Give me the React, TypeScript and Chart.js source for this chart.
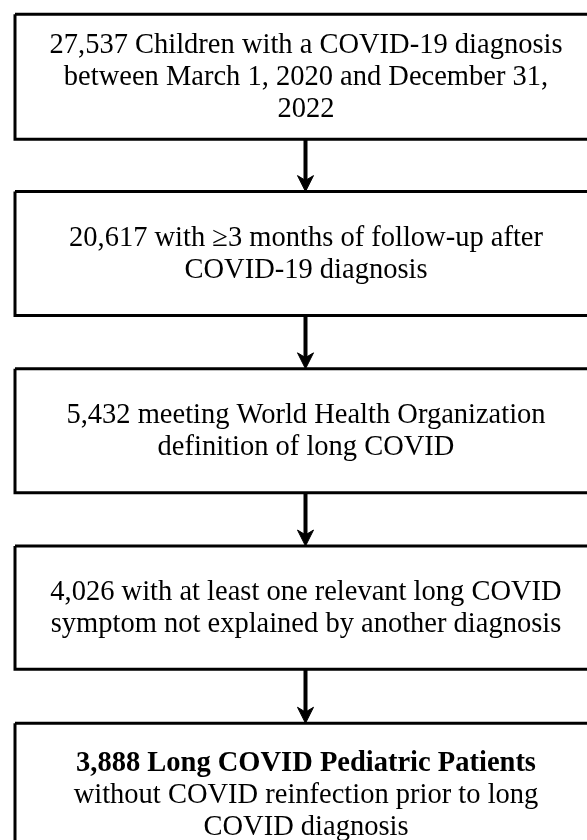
import React, { useEffect, useRef } from "react";
import { Chart, registerables } from "chart.js";

Chart.register(...registerables);

// ---- Data (flow stages) ----
const stageCounts = [27537, 20617, 5432, 4026, 3888];
const stageFirstLines = [
  "Children with a COVID-19 diagnosis",
  "with \u22653 months of follow-up after",
  "meeting World Health Organization",
  "with at least one relevant long COVID",
  "Long COVID Pediatric Patients",
];
const stageExtraLines = [
  ["between March 1, 2020 and December 31,", "2022"],
  ["COVID-19 diagnosis"],
  ["definition of long COVID"],
  ["symptom not explained by another diagnosis"],
  ["without COVID reinfection prior to long", "COVID diagnosis"],
];
const stageBoldFirst = [false, false, false, false, true];
// box height of each stage, in stage units
const stageHeights = [0.705, 0.7, 0.7, 0.695, 0.81];

// ---- Layout (in axis units) ----
const X_MIN = 0;
const X_MAX = 587;
const Y_MIN = -0.081;
const Y_MAX = 4.659;
const BOX_LEFT = 15;
const BOX_RIGHT = 598;
const ARROW_X = 305.5;
const HEAD_HALF = 8;
const HEAD_LEN = 0.09;
const FONT = '"Liberation Serif", "Times New Roman", serif';
const FONT_SIZE = 28.5;
const LINE_H = 32;

function fmt(n: number) {
  return n.toLocaleString("en-US");
}

export default function App() {
  const ref = useRef<HTMLCanvasElement | null>(null);
  useEffect(() => {
    if (!ref.current) return;
    const datasets: any[] = [];
    stageCounts.forEach((_, i) => {
      const top = i;
      const bot = i + stageHeights[i];
      datasets.push({
        data: [
          { x: BOX_LEFT, y: top },
          { x: BOX_RIGHT, y: top },
          { x: BOX_RIGHT, y: bot },
          { x: BOX_LEFT, y: bot },
          { x: BOX_LEFT, y: top },
        ],
        showLine: true,
        borderColor: "#000",
        borderWidth: 3,
        borderJoinStyle: "miter",
        pointRadius: 0,
        fill: false,
        tension: 0,
      });
      if (i < stageCounts.length - 1) {
        const next = i + 1;
        datasets.push({
          data: [
            { x: ARROW_X, y: bot },
            { x: ARROW_X, y: next - HEAD_LEN * 0.5 },
          ],
          showLine: true,
          borderColor: "#000",
          borderWidth: 4,
          pointRadius: 0,
          fill: false,
        });
        datasets.push({
          data: [
            { x: ARROW_X - HEAD_HALF, y: next - HEAD_LEN },
            { x: ARROW_X, y: next - HEAD_LEN * 0.7 },
            { x: ARROW_X + HEAD_HALF, y: next - HEAD_LEN },
            { x: ARROW_X, y: next },
            { x: ARROW_X - HEAD_HALF, y: next - HEAD_LEN },
          ],
          showLine: true,
          borderColor: "#000",
          backgroundColor: "#000",
          borderWidth: 1,
          borderJoinStyle: "miter",
          pointRadius: 0,
          fill: "shape",
        });
      }
    });

    const textPlugin = {
      id: "boxText",
      afterDatasetsDraw(chart: any) {
        const ctx = chart.ctx;
        const xs = chart.scales.x;
        const ys = chart.scales.y;
        ctx.save();
        ctx.fillStyle = "#000";
        ctx.textAlign = "center";
        ctx.textBaseline = "middle";
        const cx = xs.getPixelForValue(ARROW_X + 0.5);
        stageCounts.forEach((count, i) => {
          const lines = [fmt(count) + " " + stageFirstLines[i], ...stageExtraLines[i]];
          const cy = ys.getPixelForValue(i + stageHeights[i] / 2);
          const start = cy - ((lines.length - 1) * LINE_H) / 2;
          lines.forEach((ln, j) => {
            const bold = j === 0 && stageBoldFirst[i];
            ctx.font = `${bold ? "bold " : ""}${FONT_SIZE}px ${FONT}`;
            ctx.fillText(ln, cx, start + j * LINE_H + 1);
          });
        });
        ctx.restore();
      },
    };

    const chart = new Chart(ref.current, {
      type: "scatter",
      data: { datasets },
      options: {
        animation: false,
        responsive: false,
        events: [],
        layout: { padding: 0 },
        plugins: { legend: { display: false }, tooltip: { enabled: false } },
        scales: {
          x: { type: "linear", min: X_MIN, max: X_MAX, display: false },
          y: { type: "linear", min: Y_MIN, max: Y_MAX, reverse: true, display: false },
        },
        clip: false as any,
      },
      plugins: [textPlugin],
    } as any);
    return () => chart.destroy();
  }, []);

  return (
    <div style={{ position: "fixed", left: 0, top: 0, width: 587, height: 840, background: "#fff" }}>
      <canvas ref={ref} width={587} height={840} style={{ display: "block" }} />
    </div>
  );
}
